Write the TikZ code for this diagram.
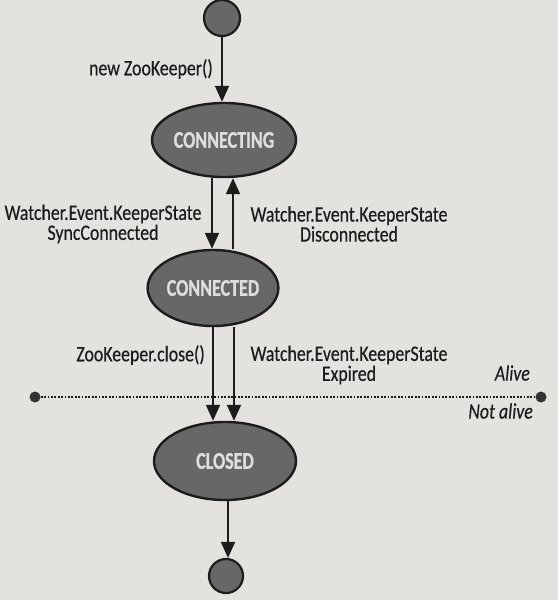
\documentclass[tikz,border=0pt]{standalone}
\usepackage{fontspec}
\setmainfont{Carlito}
\newfontfamily\lblfont[FakeStretch=0.81,FakeBold=0.4]{Carlito}
\newfontfamily\statefont[FakeStretch=0.75,FakeBold=0.8]{Carlito Bold}
\usetikzlibrary{arrows.meta,shapes.geometric,calc}
\definecolor{paper}{HTML}{E4E2DF}
\definecolor{statefill}{HTML}{676767}
\definecolor{statetext}{HTML}{DEDEDE}
\definecolor{ink}{HTML}{1C1C1C}
\begin{document}
\begin{tikzpicture}[x=1pt,y=-1pt,
  statebox/.style={ellipse,draw=ink,line width=2.4pt,fill=statefill,text=statetext,
    font=\statefont\fontsize{24}{24}\selectfont,inner sep=0pt},
  endpoint/.style={circle,draw=ink,line width=2.2pt,fill=statefill,inner sep=0pt},
  lbl/.style={font=\lblfont\fontsize{22}{20}\selectfont,text=ink,inner sep=0pt,align=center},
  arr/.style={draw=ink,line width=1.8pt,-{Triangle[width=14pt,length=16pt]}},
  dotend/.style={circle,fill=ink!90,inner sep=0pt,minimum size=11pt}
]
\fill[paper] (0,0) rectangle (558,600);
\useasboundingbox (0,0) rectangle (558,600);

\node[endpoint,minimum size=36pt] (start) at (222,18) {};
\node[statebox,minimum width=144pt,minimum height=74pt] (connecting) at (224,140) {CONNECTING};
\node[statebox,minimum width=128pt,minimum height=76pt] (connected) at (213,288) {CONNECTED};
\node[statebox,minimum width=142pt,minimum height=78pt] (closed) at (225,461) {CLOSED};
\node[endpoint,minimum size=34pt] (finish) at (226,576) {};

\coordinate (xa) at (212,0);
\coordinate (xb) at (233,0);
\coordinate (xc) at (213,0);
\coordinate (xd) at (234,0);
\coordinate (xe) at (228,0);

\draw[arr] (start.south) -- (start.south |- connecting.north);
\draw[arr] (connecting.south -| xa) -- (connected.north -| xa);
\draw[arr] (connected.north -| xb) -- (connecting.south -| xb);
\draw[arr] (connected.south -| xc) -- (closed.north -| xc);
\draw[arr] (connected.south -| xd) -- (closed.north -| xd);
\draw[arr] (closed.south -| xe) -- (finish.north -| xe);

\node[lbl,anchor=east] (l1) at (213,69) {new ZooKeeper()};
\node[lbl] (l2) at (103,224) {Watcher.Event.KeeperState\\SyncConnected};
\node[lbl] (l3) at (349,224) {Watcher.Event.KeeperState\\Disconnected};
\node[lbl,anchor=east] (l4) at (205,355) {ZooKeeper.close()};
\node[lbl] (l5) at (349,365) {Watcher.Event.KeeperState\\Expired};

\node[dotend] (dl) at (35,397) {};
\node[dotend] (dr) at (541,397) {};
\draw[ink,line width=2.4pt,dash pattern=on 1.8pt off 1.6pt] (dl) -- (dr);
\node[lbl,anchor=east,font=\lblfont\fontsize{22}{20}\selectfont\itshape] (alive) at (530,373) {Alive};
\node[lbl,anchor=east,font=\lblfont\fontsize{22}{20}\selectfont\itshape] (notalive) at (533,411) {Not alive};
\end{tikzpicture}
\end{document}
